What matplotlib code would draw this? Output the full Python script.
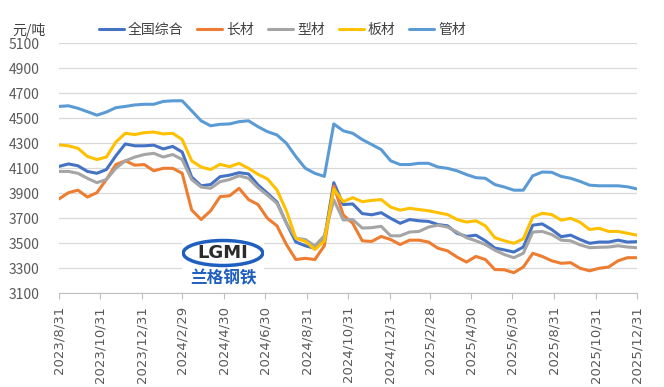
import numpy as np
import pandas as pd
import matplotlib
matplotlib.use("Agg")
import matplotlib.pyplot as plt
from matplotlib.patches import Ellipse

plt.rcParams['font.family'] = ['Noto Sans CJK SC', 'DejaVu Sans']

# ~biweekly readings, first point 2023/8/31, last point 2025/12/31
dates = pd.date_range('2023-08-31', '2025-12-31', periods=62)

national = [4115, 4135, 4120, 4075, 4060, 4090, 4200, 4295, 4280, 4280,
            4285, 4255, 4275, 4230, 4030, 3960, 3970, 4033, 4045, 4065,
            4055, 3967, 3900, 3830, 3660, 3510, 3480, 3460, 3530, 3985,
            3810, 3815, 3738, 3728, 3745, 3700, 3660, 3690, 3680, 3675,
            3650, 3640, 3580, 3555, 3565, 3520, 3462, 3447, 3430, 3470,
            3645, 3655, 3610, 3553, 3565, 3530, 3500, 3510, 3510, 3525,
            3510, 3513]
long_steel = [3855, 3905, 3925, 3870, 3905, 4010, 4130, 4160, 4125, 4130,
              4080, 4100, 4100, 4060, 3767, 3690, 3760, 3873, 3880, 3940,
              3850, 3810, 3700, 3640, 3490, 3370, 3380, 3370, 3480, 3958,
              3727, 3660, 3520, 3515, 3555, 3530, 3490, 3525, 3525, 3510,
              3460, 3440, 3390, 3350, 3395, 3370, 3290, 3288, 3265, 3310,
              3420, 3395, 3360, 3340, 3345, 3300, 3280, 3300, 3310, 3360,
              3385, 3385]
section = [4075, 4075, 4060, 4020, 3985, 4010, 4100, 4160, 4190, 4210,
           4220, 4190, 4210, 4170, 4010, 3950, 3940, 3993, 4010, 4040,
           4020, 3945, 3885, 3820, 3660, 3540, 3530, 3480, 3560, 3847,
           3687, 3690, 3622, 3625, 3636, 3560, 3560, 3590, 3595, 3630,
           3645, 3630, 3590, 3545, 3520, 3490, 3445, 3410, 3385, 3420,
           3590, 3595, 3570, 3525, 3520, 3487, 3465, 3468, 3470, 3480,
           3470, 3465]
plate = [4287, 4280, 4260, 4195, 4170, 4190, 4310, 4380, 4370, 4385,
         4390, 4375, 4380, 4330, 4160, 4110, 4090, 4132, 4113, 4140,
         4100, 4052, 4015, 3927, 3759, 3540, 3515, 3450, 3520, 3935,
         3833, 3865, 3833, 3843, 3850, 3790, 3765, 3780, 3770, 3760,
         3745, 3730, 3690, 3670, 3680, 3640, 3545, 3520, 3500, 3535,
         3710, 3740, 3730, 3685, 3700, 3668, 3610, 3620, 3595, 3595,
         3580, 3565]
pipe = [4595, 4600, 4580, 4553, 4525, 4550, 4585, 4595, 4607, 4612,
        4612, 4635, 4640, 4640, 4560, 4480, 4440, 4452, 4455, 4473,
        4480, 4433, 4393, 4367, 4300, 4193, 4100, 4060, 4035, 4455,
        4400, 4380, 4330, 4290, 4250, 4160, 4130, 4130, 4140, 4140,
        4110, 4100, 4080, 4050, 4025, 4020, 3970, 3950, 3925, 3925,
        4040, 4070, 4068, 4035, 4020, 3995, 3965, 3960, 3960, 3960,
        3952, 3935]

series_names = ['全国综合', '长材', '型材', '板材', '管材']
series_colors = ['#4472C4', '#ED7D31', '#A5A5A5', '#FFC000', '#5B9BD5']

tick_labels = ['2023/8/31', '2023/10/31', '2023/12/31', '2024/2/29',
               '2024/4/30', '2024/6/30', '2024/8/31', '2024/10/31',
               '2024/12/31', '2025/2/28', '2025/4/30', '2025/6/30',
               '2025/8/31', '2025/10/31', '2025/12/31']
y_ticks = list(range(3100, 5101, 200))

fig = plt.figure(figsize=(6.64, 3.87), dpi=100)
ax = fig.add_axes([59 / 664, 1 - 293.3 / 387, 578 / 664, 250 / 387])

for values, name, color in zip([national, long_steel, section, plate, pipe],
                               series_names, series_colors):
    ax.plot(dates, values, color=color, lw=2.2, label=name,
            solid_joinstyle='round', solid_capstyle='round')

ax.set_xlim(dates[0], dates[-1])
ax.set_ylim(3100, 5100)
ax.set_yticks(y_ticks)
ax.set_xticks(pd.to_datetime(tick_labels, format='%Y/%m/%d'))
ax.set_xticklabels(tick_labels, rotation=90, family='DejaVu Sans',
                   fontsize=9.5, color='#595959')
ax.tick_params(axis='x', direction='out', length=4, color='#bfbfbf', pad=5)
ax.tick_params(axis='y', length=0, pad=14, labelsize=10, labelcolor='#595959')

ax.yaxis.grid(True, color='#d9d9d9', lw=0.9)
ax.set_axisbelow(True)
for side in ['top', 'right', 'left']:
    ax.spines[side].set_visible(False)
ax.spines['bottom'].set_color('#bfbfbf')

fig.text(12 / 664, 1 - 30 / 387, '元/吨', fontsize=10, color='#404040',
         va='center', ha='left')
fig.legend(loc='center left', bbox_to_anchor=(86 / 664, 1 - 30 / 387),
           ncol=5, frameon=False, fontsize=10, handlelength=1.8,
           handletextpad=0.3, columnspacing=1.0, labelcolor='#404040')

# watermark logo
logo = fig.add_axes([182 / 664, 1 - 288 / 387, 82 / 664, 50 / 387])
logo.set_xlim(0, 1)
logo.set_ylim(0, 1)
logo.axis('off')
logo.add_patch(plt.Rectangle((0, 0), 1, 1, color='white', zorder=0))
logo.add_patch(Ellipse((0.5, 0.7), 0.97, 0.5, fill=False,
                       edgecolor='#1f5fbf', lw=2.5))
logo.text(0.5, 0.7, 'LGMI', ha='center', va='center', fontsize=13,
          fontweight='bold', color='#2b2b2b', family='DejaVu Sans')
logo.text(0.5, 0.2, '兰格钢铁', ha='center', va='center', fontsize=12,
          fontweight='bold', color='#1f5fbf')

fig.savefig('out.png', dpi=100)
